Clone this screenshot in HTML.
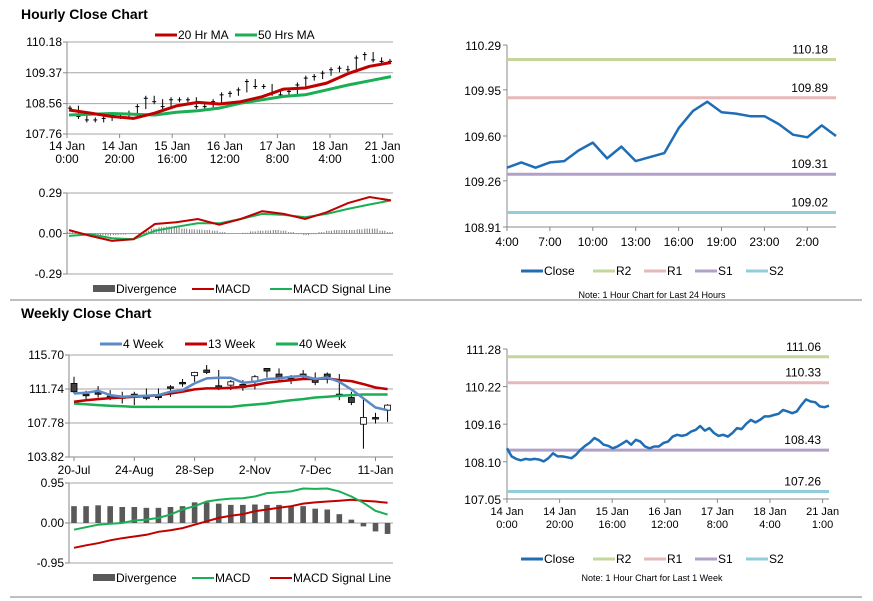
<!DOCTYPE html>
<html><head><meta charset="utf-8"><style>
html,body{margin:0;padding:0;background:#fff;width:873px;height:601px;overflow:hidden}
svg{display:block;font-family:"Liberation Sans",Arial,sans-serif}
</style></head><body>
<svg id="s" width="873" height="601" viewBox="0 0 873 601">
<text x="21" y="19" font-size="14" font-weight="bold" fill="#000">Hourly Close Chart</text>
<text x="21" y="318" font-size="14" font-weight="bold" fill="#000">Weekly Close Chart</text>
<line x1="10" y1="300" x2="862" y2="300" stroke="#999" stroke-width="1.2"/>
<line x1="10" y1="597" x2="862" y2="597" stroke="#999" stroke-width="1.2"/>
</svg>
<script>
// ---- Hourly price ----
const hCloses=[108.44,108.22,108.13,108.13,108.17,108.26,108.22,108.31,108.48,108.70,108.61,108.48,108.66,108.66,108.66,108.48,108.48,108.61,108.79,108.83,108.92,109.14,109.01,109.01,108.83,108.79,108.88,109.05,109.23,109.27,109.36,109.45,109.49,109.45,109.76,109.85,109.71,109.67,109.67];
const hMA20=[108.39,108.31,108.22,108.17,108.31,108.50,108.59,108.55,108.61,108.74,108.94,108.97,109.10,109.35,109.54,109.64];
const hMA50=[108.26,108.28,108.30,108.28,108.26,108.33,108.37,108.44,108.57,108.66,108.75,108.79,108.92,109.05,109.16,109.27];
const hPriceTicks=[110.18,109.37,108.56,107.76];
const hDateLabels=[["14 Jan","0:00"],["14 Jan","20:00"],["15 Jan","16:00"],["16 Jan","12:00"],["17 Jan","8:00"],["18 Jan","4:00"],["21 Jan","1:00"]];
// ---- Hourly MACD ----
const hMacd=[0.024,-0.017,-0.053,-0.041,0.068,0.080,0.104,0.063,0.104,0.160,0.140,0.104,0.152,0.218,0.261,0.237];
const hSignal=[-0.017,-0.005,-0.034,-0.041,0.019,0.048,0.073,0.073,0.104,0.140,0.133,0.116,0.140,0.176,0.208,0.237];
const hDiv=[0.01,0.005,-0.005,-0.01,-0.012,-0.015,-0.012,-0.008,-0.004,0.005,0.02,0.035,0.045,0.05,0.045,0.035,0.03,0.028,0.025,0.02,0.01,0.002,0.0,0.005,0.015,0.02,0.022,0.025,0.02,0.01,-0.005,-0.012,-0.005,0.01,0.02,0.025,0.025,0.025,0.03,0.035,0.035,0.02,0.01];
const hMacdTicks=[0.29,0.00,-0.29];
// ---- Weekly ----
const wOpen=[112.39,111.14,111.30,110.91,110.83,111.14,110.83,110.91,112.00,112.51,113.29,113.95,112.12,112.19,112.27,112.66,114.14,113.48,112.97,113.48,112.78,113.48,111.14,110.75,107.64,108.42,109.27];
const wClose=[111.42,110.95,111.22,110.75,110.83,110.95,110.83,110.91,112.00,112.51,113.67,113.67,112.12,112.58,111.92,113.17,113.83,112.90,112.78,113.29,112.51,113.17,111.03,110.17,108.42,108.30,109.86];
const wHigh=[113.17,111.53,112.08,111.61,111.42,111.42,111.81,111.81,112.19,112.90,113.75,114.53,113.95,112.78,112.78,113.36,114.14,114.14,113.36,113.95,113.67,113.67,113.48,111.42,110.56,108.96,109.97];
const wLow=[111.22,110.56,110.75,110.44,110.05,109.86,110.44,110.44,110.83,112.00,112.58,113.48,111.61,111.61,111.53,111.69,113.09,112.66,112.31,112.97,112.19,112.39,110.44,109.86,104.79,107.72,107.91];
const wMA4=[111.22,111.30,111.53,111.03,110.83,110.91,110.95,111.03,111.42,111.61,112.39,112.97,113.05,113.05,112.47,112.58,112.90,112.97,113.17,113.25,112.90,113.09,112.58,111.69,110.64,109.59,109.27];
const wMA13=[110.25,110.44,110.56,110.68,110.75,110.83,110.91,111.03,111.22,111.42,111.69,111.81,111.81,111.88,112.00,112.19,112.47,112.62,112.78,112.90,112.90,112.97,112.78,112.66,112.31,111.92,111.73];
const wMA40=[110.05,109.97,109.86,109.78,109.74,109.66,109.66,109.66,109.66,109.66,109.66,109.66,109.66,109.66,109.82,109.94,110.05,110.25,110.44,110.56,110.75,110.83,110.95,111.03,111.10,111.10,111.10];
const wPriceTicks=[115.70,111.74,107.78,103.82];
const wDateLabels=["20-Jul","24-Aug","28-Sep","2-Nov","7-Dec","11-Jan"];
const wDiv=[0.40,0.40,0.42,0.40,0.38,0.38,0.36,0.36,0.38,0.40,0.49,0.49,0.46,0.43,0.43,0.44,0.43,0.43,0.40,0.40,0.34,0.32,0.21,0.08,-0.08,-0.20,-0.26];
const wMacd=[-0.16,-0.10,-0.04,-0.02,0.00,0.06,0.08,0.12,0.20,0.32,0.40,0.51,0.55,0.58,0.59,0.63,0.71,0.73,0.75,0.82,0.81,0.82,0.75,0.63,0.48,0.29,0.20];
const wSignal=[-0.59,-0.53,-0.48,-0.41,-0.36,-0.32,-0.28,-0.21,-0.17,-0.12,-0.04,0.04,0.12,0.17,0.21,0.28,0.32,0.36,0.40,0.46,0.49,0.51,0.53,0.55,0.53,0.51,0.48];
const wMacdTicks=[0.95,0.00,-0.95];
// ---- 24h chart ----
const dClose=[109.36,109.40,109.36,109.40,109.41,109.49,109.55,109.43,109.52,109.41,109.44,109.47,109.66,109.79,109.86,109.78,109.77,109.75,109.75,109.69,109.61,109.59,109.68,109.60];
const dHourLabels=["4:00","7:00","10:00","13:00","16:00","19:00","23:00","2:00"];
const dTicks=[110.29,109.95,109.60,109.26,108.91];
const dLevels=[110.18,109.89,109.31,109.02];
// ---- 1 week chart ----
const kClose=[108.48,108.25,108.18,108.14,108.18,108.16,108.18,108.16,108.11,108.20,108.34,108.25,108.25,108.23,108.20,108.30,108.44,108.55,108.64,108.77,108.70,108.58,108.55,108.48,108.53,108.61,108.69,108.58,108.72,108.67,108.53,108.48,108.53,108.53,108.63,108.67,108.81,108.86,108.83,108.86,108.95,109.00,109.11,108.98,109.05,108.91,108.83,108.86,108.81,108.91,109.05,109.02,109.17,109.28,109.21,109.28,109.38,109.38,109.42,109.45,109.56,109.52,109.47,109.52,109.70,109.86,109.80,109.78,109.66,109.64,109.68];
const kTicks=[111.28,110.22,109.16,108.10,107.05];
const kLevels=[111.06,110.33,108.43,107.26];
const levelNames=["R2","R1","S1","S2"];
const levelColors=["#c4d79b","#e6b8b7","#b1a0c7","#92cddc"];

const NS="http://www.w3.org/2000/svg";
const svg=document.getElementById("s");
function mk(tag,attrs,parent){const e=document.createElementNS(NS,tag);for(const k in attrs)e.setAttribute(k,attrs[k]);(parent||svg).appendChild(e);return e;}
function lin(d0,d1,r0,r1){return v=>r0+(v-d0)*(r1-r0)/(d1-d0);}
function txt(x,y,s,anchor,size,g){const t=mk("text",{x:x,y:y,"text-anchor":anchor||"start","font-size":size||11,fill:"#000"},g);t.textContent=s;return t;}
function pathOf(arr,xs,ys){return arr.map((v,i)=>(i?"L":"M")+xs(i).toFixed(1)+","+ys(v).toFixed(1)).join("");}
function group(name){const g=mk("g",{});return g;}

function gridAxis(g,ticks,ys,x0,x1){
  ticks.forEach(t=>{const l=mk("line",{x1:x0,x2:x1,y1:ys(t),y2:ys(t),stroke:"#a6a6a6","stroke-width":1},g);
    
    mk("line",{x1:x0-4,x2:x0,y1:ys(t),y2:ys(t),stroke:"#888"},g);
    const tl=txt(x0-5,ys(t)+4,t.toFixed(2),"end",12,g);
    });
  const ax=mk("line",{x1:x0,x2:x0,y1:ys(ticks[0]),y2:ys(ticks[ticks.length-1]),stroke:"#888"},g);
  
}
function legend(g,items,y){
  items.forEach(it=>{
    const sw=it.bar?mk("rect",{x:it.x,y:y-4,width:22,height:7,fill:it.c},g):mk("line",{x1:it.x,x2:it.x+22,y1:y,y2:y,stroke:it.c,"stroke-width":it.w||3},g);
    
    const t=txt(it.x+23,y+4,it.t,"start",12,g);
    
  });
}

// ===== Hourly price panel =====
(function(){
  const g=group("hourly-price-chart");
  const x0=67,x1=393,ys=lin(110.18,107.76,42,134);
  gridAxis(g,hPriceTicks,ys,x0,x1);
  hDateLabels.forEach((d,i)=>{const x=x0+i*52.6;mk("line",{x1:x,x2:x,y1:134,y2:138,stroke:"#888"},g);
    const t=txt(x,150,d[0],"middle",12,g);
    const t2=txt(x,163,d[1],"middle",12,g);});
  const cx=i=>x0+3+i*(x1-x0-6)/(hCloses.length-1);
  hCloses.forEach((c,i)=>{const p=i?hCloses[i-1]:c;const top=Math.min(ys(p),ys(c))-2.5,bot=Math.max(ys(p),ys(c))+2.5;
    const l=mk("line",{x1:cx(i),x2:cx(i),y1:top,y2:bot,stroke:"#000","stroke-width":1},g);
    
    mk("line",{x1:cx(i)-2,x2:cx(i)+2,y1:ys(c),y2:ys(c),stroke:"#000","stroke-width":1},g);});
  const mx=n=>(i=>x0+2+i*(x1-x0-4)/(n-1));
  const g50=mk("path",{d:pathOf(hMA50,mx(hMA50.length),ys),fill:"none",stroke:"#1aae55","stroke-width":3,"stroke-linejoin":"round"},g);
  
  const r20=mk("path",{d:pathOf(hMA20,mx(hMA20.length),ys),fill:"none",stroke:"#c00000","stroke-width":3,"stroke-linejoin":"round"},g);
  
  legend(g,[{x:155,t:"20 Hr MA",c:"#c00000"},{x:235,t:"50 Hrs MA",c:"#1aae55"}],35);
})();

// ===== Hourly MACD =====
(function(){
  const g=group("hourly-macd-chart");
  const x0=67,x1=393,ys=lin(0.29,-0.29,193,274);
  gridAxis(g,hMacdTicks,ys,x0,x1);
  const bx=i=>x0+3+i*(x1-x0-6)/(hDiv.length-1);
  hDiv.forEach((v,i)=>{for(let k=0;k<3;k++){const x=bx(i)+k*2.4-2.4;
    const r=mk("line",{x1:x,x2:x,y1:ys(0),y2:ys(v),stroke:"#7f7f7f","stroke-width":1},g);
    }});
  const mx=n=>(i=>x0+2+i*(x1-x0-4)/(n-1));
  const s=mk("path",{d:pathOf(hSignal,mx(hSignal.length),ys),fill:"none",stroke:"#1aae55","stroke-width":2},g);
  
  const m=mk("path",{d:pathOf(hMacd,mx(hMacd.length),ys),fill:"none",stroke:"#c00000","stroke-width":2},g);
  
  legend(g,[{x:93,t:"Divergence",c:"#595959",bar:true},{x:192,t:"MACD",c:"#c00000",w:2},{x:270,t:"MACD Signal Line",c:"#1aae55",w:2}],289);
})();

// ===== Weekly price =====
(function(){
  const g=group("weekly-price-chart");
  const x0=69,x1=393,ys=lin(115.70,103.82,355,457);
  gridAxis(g,wPriceTicks,ys,x0,x1);
  const cx=i=>74+i*12.06;
  mk("line",{x1:x0,x2:x1,y1:457,y2:457,stroke:"#888"},g);
  wDateLabels.forEach((d,i)=>{const x=cx(i*5);mk("line",{x1:x,x2:x,y1:457,y2:461,stroke:"#888"},g);
    const t=txt(x,474,d,"middle",12,g);});
  wOpen.forEach((o,i)=>{const c=wClose[i],x=cx(i);
    const w=mk("line",{x1:x,x2:x,y1:ys(wHigh[i]),y2:ys(wLow[i]),stroke:"#000","stroke-width":1},g);
    
    const top=ys(Math.max(o,c)),h=Math.max(1.5,ys(Math.min(o,c))-top);
    const b=mk("rect",{x:x-3,y:top,width:6,height:h,fill:c>o?"#fff":"#404040",stroke:"#000","stroke-width":0.8},g);
    });
  [[wMA40,"#1aae55","ma-40-week"],[wMA13,"#c00000","ma-13-week"],[wMA4,"#5b8ac6","ma-4-week"]].forEach(s=>{
    const p=mk("path",{d:pathOf(s[0],cx,ys),fill:"none",stroke:s[1],"stroke-width":2.5,"stroke-linejoin":"round"},g);
    });
  legend(g,[{x:100,t:"4 Week",c:"#5b8ac6"},{x:185,t:"13 Week",c:"#c00000"},{x:276,t:"40 Week",c:"#1aae55"}],344);
})();

// ===== Weekly MACD =====
(function(){
  const g=group("weekly-macd-chart");
  const x0=69,x1=393,ys=lin(0.95,-0.95,483,563);
  gridAxis(g,wMacdTicks,ys,x0,x1);
  const cx=i=>74+i*12.06;
  wDiv.forEach((v,i)=>{const y0=ys(0),y1=ys(v);
    const r=mk("rect",{x:cx(i)-2.8,y:Math.min(y0,y1),width:5.6,height:Math.abs(y1-y0),fill:"#595959"},g);
    });
  const s=mk("path",{d:pathOf(wSignal,cx,ys),fill:"none",stroke:"#c00000","stroke-width":2},g);
  
  const m=mk("path",{d:pathOf(wMacd,cx,ys),fill:"none",stroke:"#1aae55","stroke-width":2},g);
  
  legend(g,[{x:93,t:"Divergence",c:"#595959",bar:true},{x:192,t:"MACD",c:"#1aae55",w:2},{x:270,t:"MACD Signal Line",c:"#c00000",w:2}],578);
})();

// ===== Level charts =====
function levelChart(name,x0,x1,yT,yB,ticks,levels,close,labels,labelFn,legendY,note,noteY){
  const g=group(name);
  const ys=lin(ticks[0],ticks[ticks.length-1],yT,yB);
  mk("line",{x1:x0,x2:x0,y1:yT,y2:yB,stroke:"#888"},g);
  mk("line",{x1:x0,x2:x1,y1:yB,y2:yB,stroke:"#888"},g);
  ticks.forEach(t=>{mk("line",{x1:x0-4,x2:x0,y1:ys(t),y2:ys(t),stroke:"#888"},g);
    const tl=txt(x0-6,ys(t)+5,t.toFixed(2),"end",12,g);});
  levels.forEach((v,i)=>{const l=mk("line",{x1:x0,x2:x1,y1:ys(v),y2:ys(v),stroke:levelColors[i],"stroke-width":3},g);
    
    const t=txt(x1-8,ys(v)-6,v.toFixed(2),"end",12,g);});
  const cx=i=>x0+i*(x1-x0)/(close.length-1);
  const p=mk("path",{d:pathOf(close,cx,ys),fill:"none",stroke:"#1f6eb5","stroke-width":2.5,"stroke-linejoin":"round"},g);
  
  labelFn(g,labels,x0,x1,yB);
  legend(g,[{x:521,t:"Close",c:"#1f6eb5"},{x:593,t:"R2",c:levelColors[0]},{x:644,t:"R1",c:levelColors[1]},{x:695,t:"S1",c:levelColors[2]},{x:746,t:"S2",c:levelColors[3]}],legendY);
  const n=txt(652,noteY,note,"middle",9,g);
}
levelChart("hourly-levels-chart",507,836,45,227,dTicks,dLevels,dClose,dHourLabels,(g,labels,x0,x1,yB)=>{
  labels.forEach((s,i)=>{const x=x0+i*42.9;mk("line",{x1:x,x2:x,y1:yB,y2:yB+4,stroke:"#888"},g);
    const t=txt(x,yB+19,s,"middle",12,g);});
},271,"Note: 1 Hour Chart for Last 24 Hours",298);
levelChart("weekly-levels-chart",507,829,349,499,kTicks,kLevels,kClose,hDateLabels,(g,labels,x0,x1,yB)=>{
  labels.forEach((d,i)=>{const x=x0+i*52.6;mk("line",{x1:x,x2:x,y1:yB,y2:yB+4,stroke:"#888"},g);
    const t=txt(x,yB+16,d[0],"middle",11,g);
    const t2=txt(x,yB+29,d[1],"middle",11,g);});
},559,"Note: 1 Hour Chart for Last 1 Week",581);
</script>
</body></html>
